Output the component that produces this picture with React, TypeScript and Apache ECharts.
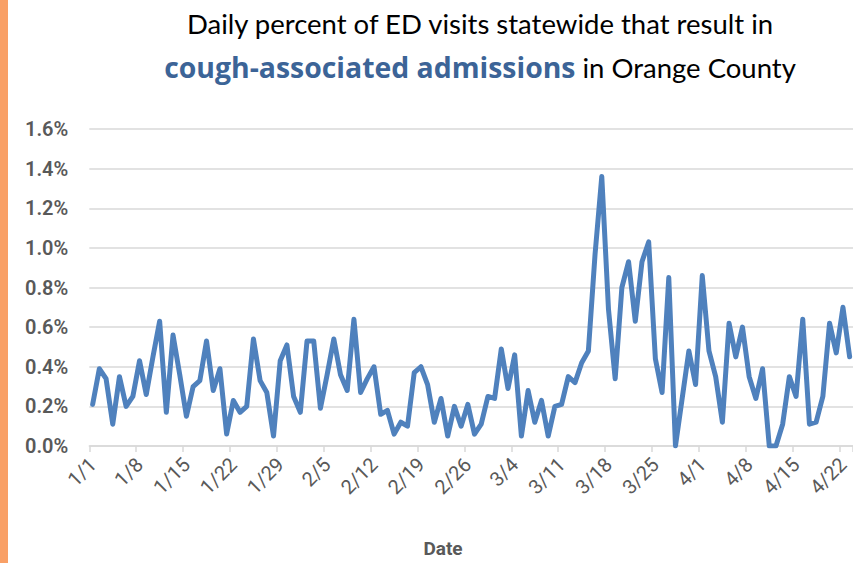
import React, { useEffect, useRef } from "react";
import * as echarts from "echarts";

// Month lengths for a leap year, used to build the daily category labels 1/1 .. 4/23
const monthDays = [31, 29, 31, 23];
const dates: string[] = [];
monthDays.forEach((n, m) => {
  for (let d = 1; d <= n; d++) dates.push(`${m + 1}/${d}`);
});

// Daily percent of ED visits that result in cough-associated admissions (%)
const values: number[] = [
  0.21, 0.39, 0.34, 0.11, 0.35, 0.20, 0.25, 0.43, 0.26, 0.45,
  0.63, 0.17, 0.56, 0.36, 0.15, 0.30, 0.33, 0.53, 0.28, 0.39,
  0.06, 0.23, 0.17, 0.20, 0.54, 0.33, 0.27, 0.05, 0.43, 0.51,
  0.25, 0.17, 0.53, 0.53, 0.19, 0.36, 0.54, 0.36, 0.28, 0.64,
  0.27, 0.34, 0.40, 0.16, 0.18, 0.06, 0.12, 0.10, 0.37, 0.40,
  0.31, 0.12, 0.24, 0.05, 0.20, 0.10, 0.21, 0.06, 0.11, 0.25,
  0.24, 0.49, 0.29, 0.46, 0.05, 0.28, 0.12, 0.23, 0.05, 0.20,
  0.21, 0.35, 0.32, 0.42, 0.48, 0.97, 1.36, 0.69, 0.34, 0.80,
  0.93, 0.63, 0.93, 1.03, 0.44, 0.27, 0.85, 0.00, 0.24, 0.48,
  0.31, 0.86, 0.48, 0.35, 0.12, 0.62, 0.45, 0.60, 0.35, 0.24,
  0.39, 0.00, 0.00, 0.11, 0.35, 0.25, 0.64, 0.11, 0.12, 0.25,
  0.62, 0.47, 0.70, 0.45,
];

const titleLine1 = "Daily percent of ED visits statewide that result in";
const titleBold = "cough-associated admissions";
const titleRest = " in Orange County";
const xAxisTitle = "Date";

const FONT = "Lato, 'Open Sans', sans-serif";
const BOLD_FONT = "'Open Sans', Lato, sans-serif";
const AXIS_FONT = "Roboto, 'Open Sans', sans-serif";

export default function App() {
  const ref = useRef<HTMLDivElement>(null);

  useEffect(() => {
    document.body.style.margin = "0";
    if (!ref.current) return;
    const chart = echarts.init(ref.current, undefined, { renderer: "svg" });
    chart.setOption({
      animation: false,
      backgroundColor: "#ffffff",
      grid: { left: 89.3, right: 0, top: 129, bottom: 117, containLabel: false },
      xAxis: {
        type: "category",
        data: dates,
        boundaryGap: true,
        axisLine: { lineStyle: { color: "#D9D9D9", width: 1.5 } },
        axisTick: {
          show: true,
          interval: 6,
          alignWithLabel: false,
          length: 6,
          lineStyle: { color: "#D9D9D9", width: 1.5 },
        },
        axisLabel: {
          interval: 6,
          rotate: 45,
          margin: 15,
          color: "#595959",
          fontSize: 20,
          fontFamily: AXIS_FONT,
        },
        splitLine: { show: false },
      },
      yAxis: {
        type: "value",
        min: 0,
        max: 1.6,
        interval: 0.2,
        axisLine: { show: false },
        axisTick: { show: false },
        axisLabel: {
          margin: 21,
          color: "#595959",
          fontSize: 20,
          fontWeight: 600,
          fontFamily: AXIS_FONT,
          formatter: (v: number) => `${v.toFixed(1)}%`,
        },
        splitLine: { lineStyle: { color: "#D9D9D9", width: 1.5 } },
      },
      series: [
        {
          type: "line",
          data: values,
          showSymbol: false,
          symbol: "none",
          lineStyle: { color: "#4F81BD", width: 5, join: "round", cap: "round" },
        },
      ],
      graphic: [
        {
          type: "rect",
          shape: { x: 0, y: 0, width: 8, height: 563 },
          style: { fill: "#F9A066" },
          silent: true,
        },
        {
          type: "text",
          x: 480,
          y: 23,
          style: {
            text: titleLine1,
            fontSize: 27.5,
            fontFamily: FONT,
            fill: "#000000",
            align: "center",
            verticalAlign: "middle",
          },
        },
        {
          type: "text",
          x: 480,
          y: 67,
          style: {
            text: `{b|${titleBold}}{n|${titleRest}}`,
            align: "center",
            verticalAlign: "middle",
            rich: {
              b: { fontSize: 28.4, fontWeight: "bold", fontFamily: BOLD_FONT, fill: "#3C6497" },
              n: { fontSize: 27.5, fontFamily: FONT, fill: "#000000" },
            },
          },
        },
        {
          type: "text",
          x: 443,
          y: 548,
          style: {
            text: xAxisTitle,
            fontSize: 19,
            fontWeight: "bold",
            fontFamily: AXIS_FONT,
            fill: "#595959",
            align: "center",
            verticalAlign: "middle",
          },
        },
      ],
    });
    return () => chart.dispose();
  }, []);

  return (
    <div
      ref={ref}
      style={{ position: "absolute", left: 0, top: 0, width: 853, height: 563 }}
    />
  );
}
